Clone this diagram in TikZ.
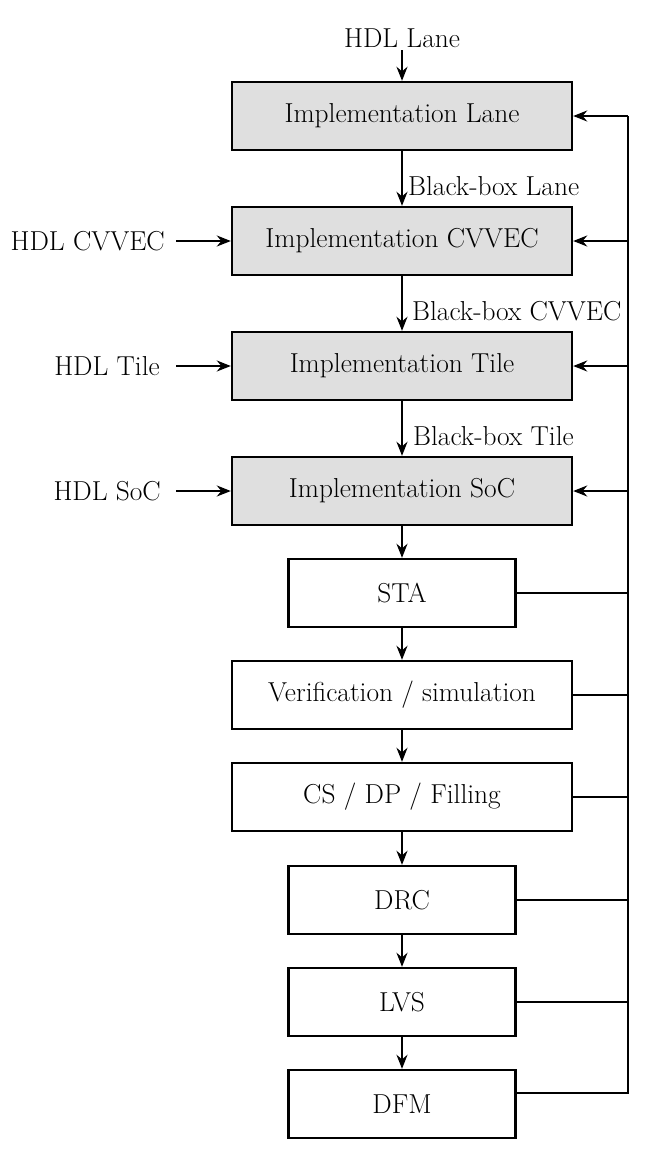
\documentclass[tikz,border=0pt]{standalone}
\usetikzlibrary{arrows.meta}
\begin{document}
\begin{tikzpicture}[x=1pt,y=-1pt,
  every node/.style={font=\fontsize{27.4}{32}\selectfont},
  impl/.style={draw,line width=2.4pt,fill=gray!25,minimum width=340pt,minimum height=68pt,inner sep=0pt},
  wide/.style={draw,line width=2.4pt,minimum width=340pt,minimum height=68pt,inner sep=0pt},
  narrow/.style={draw,line width=2.4pt,minimum width=227pt,minimum height=68pt,inner sep=0pt},
  conn/.style={line width=2.2pt,-{Stealth[length=14pt,width=11pt]}},
  plain/.style={line width=2.2pt},
  lbl/.style={inner sep=0pt}]
\useasboundingbox (0,0) rectangle (647,1151);
\node[impl] (lane) at (402,116) {Implementation Lane};
\node[impl] (cvvec) at (402,241) {Implementation CVVEC};
\node[impl] (tile) at (402,366) {Implementation Tile};
\node[impl] (soc) at (402,491) {Implementation SoC};
\node[narrow] (sta) at (402,593) {STA};
\node[wide] (ver) at (402,695) {Verification / simulation};
\node[wide] (cs) at (402,797) {CS / DP / Filling};
\node[narrow] (drc) at (402,900) {DRC};
\node[narrow] (lvs) at (402,1002) {LVS};
\node[narrow] (dfm) at (402,1104) {DFM};
\node[lbl] (hlane) at (402,38) {HDL Lane};
\node[lbl,anchor=east] (hcvvec) at (165,241) {HDL CVVEC};
\node[lbl,anchor=east] (htile) at (160,366) {HDL Tile};
\node[lbl,anchor=east] (hsoc) at (161,491) {HDL SoC};
\coordinate (hcv) at (176,241);
\coordinate (hti) at (176,366);
\coordinate (hso) at (176,491);
\draw[conn] (402,50) -- (lane.north);
\draw[conn] (hcv) -- (cvvec.west);
\draw[conn] (hti) -- (tile.west);
\draw[conn] (hso) -- (soc.west);
\draw[conn] (lane) -- (cvvec);
\draw[conn] (cvvec) -- (tile);
\draw[conn] (tile) -- (soc);
\node[lbl,anchor=west] (bl) at (408,186) {Black-box Lane};
\node[lbl,anchor=west] (bc) at (412,311) {Black-box CVVEC};
\node[lbl,anchor=west] (bt) at (413,436) {Black-box Tile};
\draw[conn] (soc) -- (sta);
\draw[conn] (sta) -- (ver);
\draw[conn] (ver) -- (cs);
\draw[conn] (cs) -- (drc);
\draw[conn] (drc) -- (lvs);
\draw[conn] (lvs) -- (dfm);
\coordinate (top) at (628,116);
\coordinate (bot) at (628,1093);
\draw[plain] ([yshift=11pt]dfm.east) -- (bot) -- (top);
\draw[conn] (top) -- (lane.east);
\draw[conn] (628,241) -- (cvvec.east);
\draw[conn] (628,366) -- (tile.east);
\draw[conn] (628,491) -- (soc.east);
\draw[plain] (sta.east) -- (628,593);
\draw[plain] (ver.east) -- (628,695);
\draw[plain] (cs.east) -- (628,797);
\draw[plain] (drc.east) -- (628,900);
\draw[plain] (lvs.east) -- (628,1002);
\end{tikzpicture}
\end{document}
